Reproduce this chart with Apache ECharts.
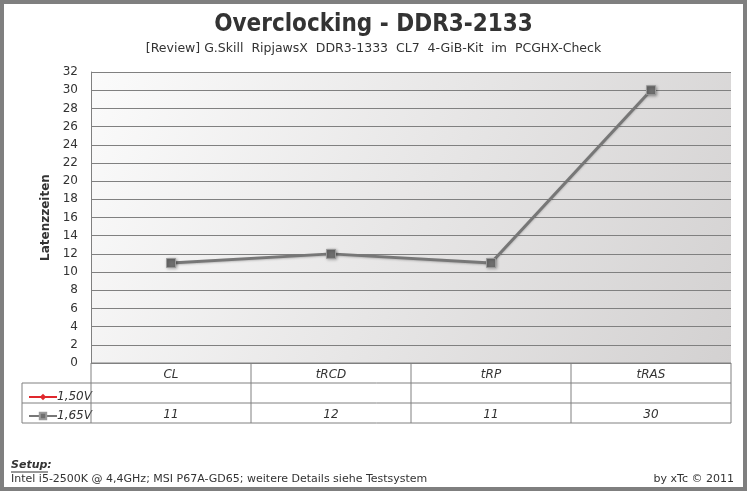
<!DOCTYPE html>
<html lang="de">
<head>
<meta charset="UTF-8">
<title>Overclocking - DDR3-2133</title>
<script src="https://cdn.jsdelivr.net/npm/echarts@6/dist/echarts.min.js"></script>
<style>
    body { margin: 0; padding: 0; background: #fff; }
    #main { width: 747px; height: 491px; }
</style>
</head>
<body>
<div id="main"></div>
<script>
    // chart data
    const categories = ['CL', 'tRCD', 'tRP', 'tRAS'];
    const seriesNames = ['1,50V', '1,65V'];
    const values150 = [null, null, null, null];
    const values165 = [11, 12, 11, 30];
    const yTicks = { min: 0, max: 32, interval: 2 };

    const W = 747, H = 491;
    const gl = 91, gr = 731, gt = 72, gb = 363;
    const rowH = 20;
    const font = 'DejaVu Sans, Verdana, sans-serif';

    const chart = echarts.init(document.getElementById('main'));

    // table lines under the plot
    const lines = [];
    const tBottom = gb + rowH * 3;
    const colW = (gr - gl) / categories.length;
    function seg(x1, y1, x2, y2) {
        lines.push({ type: 'line', shape: { x1, y1, x2, y2 }, style: { stroke: '#808080', lineWidth: 1 }, z: 10 });
    }
    seg(gl, gb, gr, gb);
    seg(22, gb + rowH, gr, gb + rowH);
    seg(22, gb + rowH * 2, gr, gb + rowH * 2);
    seg(22, tBottom, gr, tBottom);
    seg(22, gb + rowH, 22, tBottom);
    for (let i = 0; i <= categories.length; i++) {
        seg(gl + colW * i, gb, gl + colW * i, tBottom);
    }

    const option = {
        backgroundColor: '#fff',
        animation: false,
        title: {
            text: 'Overclocking - DDR3-2133',
            subtext: '[Review] G.Skill  RipjawsX  DDR3-1333  CL7  4-GiB-Kit  im  PCGHX-Check',
            left: 'center',
            top: 8,
            itemGap: 5,
            textStyle: { fontFamily: 'DejaVu Sans Condensed, ' + font, fontWeight: 'bold', fontSize: 24, color: '#333' },
            subtextStyle: { fontFamily: font, fontSize: 12.5, color: '#333' }
        },
        legend: {
            orient: 'vertical',
            left: 23,
            top: gb + rowH + 3,
            itemGap: 7,
            itemWidth: 28,
            itemHeight: 8,
            data: seriesNames,
            textStyle: { fontFamily: font, fontStyle: 'italic', fontSize: 12, color: '#333', padding: [0, 0, 0, -5] }
        },
        grid: {
            left: gl, right: W - gr, top: gt, bottom: H - gb,
            show: true,
            borderWidth: 0,
            backgroundColor: new echarts.graphic.LinearGradient(0, 0, 1, 1, [
                { offset: 0, color: '#fbfbfb' },
                { offset: 1, color: '#d3d1d1' }
            ])
        },
        xAxis: [
            {
                type: 'category',
                data: categories,
                position: 'bottom',
                axisLine: { show: false },
                axisTick: { show: false },
                axisLabel: { margin: 6, fontFamily: font, fontStyle: 'italic', fontSize: 12, color: '#333' }
            },
            {
                type: 'category',
                data: categories,
                position: 'bottom',
                offset: rowH * 2,
                axisLine: { show: false },
                axisTick: { show: false },
                axisLabel: {
                    margin: 6, fontFamily: font, fontStyle: 'italic', fontSize: 12, color: '#333',
                    formatter: (v, i) => values165[i] == null ? '' : String(values165[i])
                }
            }
        ],
        yAxis: {
            type: 'value',
            min: yTicks.min,
            max: yTicks.max,
            interval: yTicks.interval,
            name: 'Latenzzeiten',
            nameLocation: 'middle',
            nameGap: 39,
            nameTextStyle: { fontFamily: font, fontWeight: 'bold', fontSize: 12, color: '#333' },
            axisLine: { show: true, lineStyle: { color: '#808080' } },
            axisTick: { show: false },
            axisLabel: { margin: 13, fontFamily: font, fontSize: 12, color: '#333' },
            splitLine: { lineStyle: { color: '#808080', width: 1 } }
        },
        series: [
            {
                name: seriesNames[0],
                type: 'line',
                data: values150,
                symbol: 'diamond',
                symbolSize: 10,
                itemStyle: { color: '#e0282d' },
                lineStyle: { color: '#e0282d', width: 3 }
            },
            {
                name: seriesNames[1],
                type: 'line',
                data: values165,
                symbol: 'rect',
                symbolSize: 9,
                itemStyle: { color: '#6e6e6e', borderColor: '#9a9a9a', borderWidth: 1, shadowColor: 'rgba(0,0,0,0.35)', shadowBlur: 3, shadowOffsetX: 1, shadowOffsetY: 1 },
                lineStyle: { color: '#777', width: 3, shadowColor: 'rgba(0,0,0,0.2)', shadowBlur: 2, shadowOffsetY: 1 }
            }
        ],
        graphic: [
            {
                type: 'rect',
                shape: { x: 2, y: 2, width: W - 4, height: H - 4 },
                style: { fill: 'none', stroke: '#7f7f7f', lineWidth: 4 },
                z: 20
            },
            ...lines,
            {
                type: 'text', left: 11, top: 460, z: 10,
                style: { text: 'Setup:', font: 'italic bold 11px ' + font, fill: '#333' }
            },
            {
                type: 'line', shape: { x1: 11, y1: 472, x2: 48, y2: 472 },
                style: { stroke: '#333', lineWidth: 1 }, z: 10
            },
            {
                type: 'text', left: 11, top: 474, z: 10,
                style: { text: 'Intel i5-2500K @ 4,4GHz; MSI P67A-GD65; weitere Details siehe Testsystem', font: '11px ' + font, fill: '#333' }
            },
            {
                type: 'text', right: 13, top: 474, z: 10,
                style: { text: 'by xTc \u00a9 2011', font: '11px ' + font, fill: '#333' }
            }
        ]
    };

    chart.setOption(option);
</script>
</body>
</html>
